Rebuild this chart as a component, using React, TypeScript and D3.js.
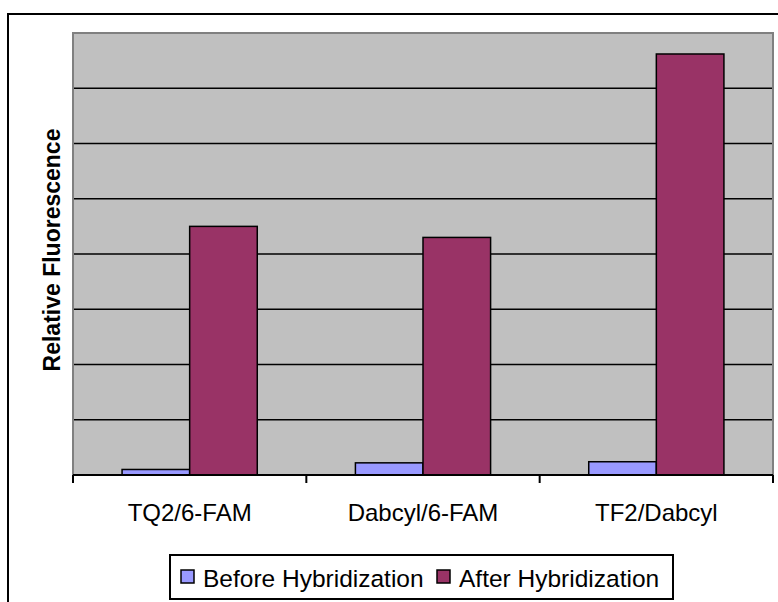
import * as d3 from 'd3';
import { useEffect } from 'react';

const categories = ['TQ2/6-FAM', 'Dabcyl/6-FAM', 'TF2/Dabcyl'];
const seriesNames = ['Before Hybridization', 'After Hybridization'];
const beforeValues = [0.1, 0.22, 0.24];
const afterValues = [4.5, 4.3, 7.62];
const yTicks = [1, 2, 3, 4, 5, 6, 7];

const colors = ['#9999FF', '#993366'];
const font = 'Liberation Sans, Arial, sans-serif';

export default function App() {
  useEffect(() => {
    document.body.style.margin = '0';
  }, []);

  const width = 778;
  const height = 602;
  const plot = { left: 73, top: 33, right: 773, bottom: 475 };

  const x = d3.scaleBand<string>().domain(categories).range([plot.left, plot.right]).padding(0);
  const xInner = d3.scaleBand<string>()
    .domain(seriesNames)
    .range([0, x.bandwidth()])
    .paddingInner(0)
    .paddingOuter(0.726);
  const y = d3.scaleLinear().domain([0, 8]).range([plot.bottom, plot.top]);

  const series = [beforeValues, afterValues];
  const boundaries = [...categories.map(c => x(c)!), plot.right];

  return (
    <svg width={width} height={height} style={{ display: 'block', fontFamily: font }}>
      <rect x={0} y={0} width={width} height={height} fill="#fff" />
      {/* outer chart border (cropped on right/bottom) */}
      <rect x={8} y={14} width={800} height={620} fill="none" stroke="#000" strokeWidth={2} />

      {/* plot area */}
      <rect x={plot.left} y={plot.top} width={plot.right - plot.left} height={plot.bottom - plot.top}
        fill="#C0C0C0" stroke="#808080" strokeWidth={2} />

      {yTicks.map(t => (
        <line key={t} x1={plot.left + 1} x2={plot.right - 1} y1={y(t)} y2={y(t)} stroke="#000" strokeWidth={1.5} />
      ))}

      {/* bars */}
      {categories.map((c, i) => (
        <g key={c} transform={`translate(${x(c)},0)`}>
          {seriesNames.map((s, j) => {
            const v = series[j][i];
            return (
              <rect key={s} x={xInner(s)} y={y(v)} width={xInner.bandwidth()} height={y(0) - y(v)}
                fill={colors[j]} stroke="#000" strokeWidth={1.5} />
            );
          })}
        </g>
      ))}

      {/* x axis */}
      <line x1={plot.left} x2={plot.right} y1={plot.bottom} y2={plot.bottom} stroke="#000" strokeWidth={2} />
      {boundaries.map((b, i) => (
        <line key={i} x1={b} x2={b} y1={plot.bottom} y2={plot.bottom + 8} stroke="#000" strokeWidth={2} />
      ))}
      {categories.map(c => (
        <text key={c} x={x(c)! + x.bandwidth() / 2} y={521} textAnchor="middle" fontSize={24} fill="#000">{c}</text>
      ))}

      {/* y title */}
      <text transform="translate(60,250) rotate(-90)" textAnchor="middle" fontSize={23} fontWeight="bold" fill="#000">
        Relative Fluorescence
      </text>

      {/* legend */}
      <rect x={170} y={555} width={503} height={44} fill="#fff" stroke="#000" strokeWidth={2} />
      {seriesNames.map((s, j) => {
        const sx = j === 0 ? 181 : 437;
        return (
          <g key={s}>
            <rect x={sx} y={570} width={13} height={13} fill={colors[j]} stroke="#000" strokeWidth={1.5} />
            <text x={sx + 22} y={587} fontSize={24.5} fill="#000">{s}</text>
          </g>
        );
      })}
    </svg>
  );
}
